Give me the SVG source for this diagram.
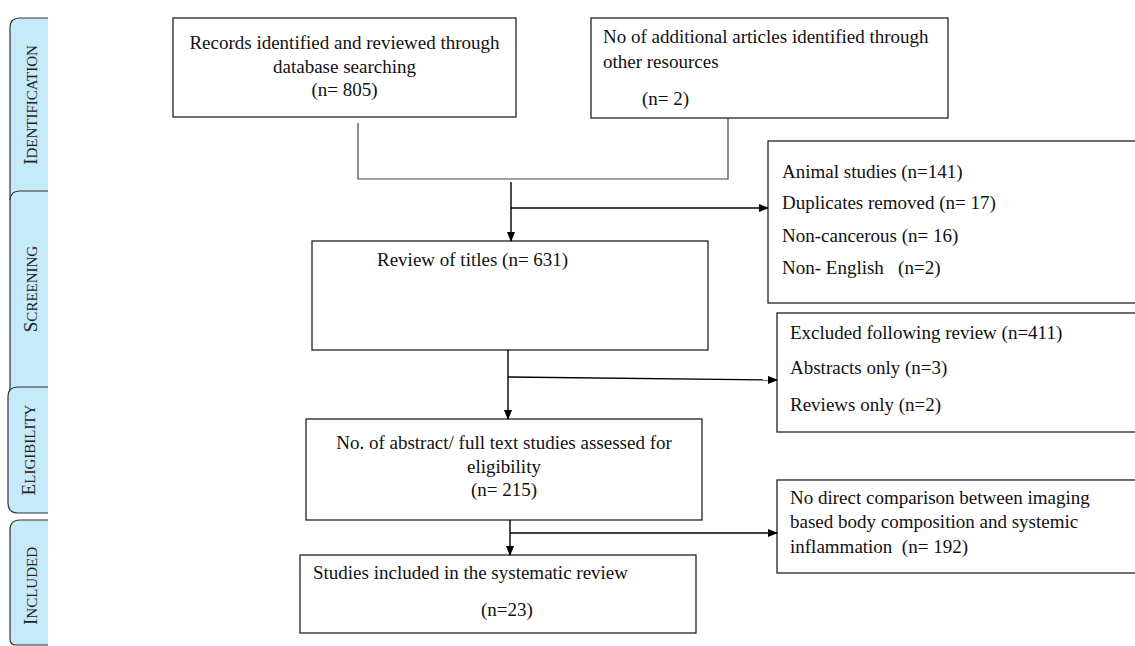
<svg xmlns="http://www.w3.org/2000/svg" width="1135" height="646" viewBox="0 0 1135 646">
<defs>
<marker id="ah" markerWidth="10" markerHeight="8" refX="9" refY="4" orient="auto" markerUnits="userSpaceOnUse">
<path d="M0,0 L10,4 L0,8 z" fill="#000"/>
</marker>
<style>
.box{fill:#fff;stroke:#222;stroke-width:1.3}
.t{font-family:"Liberation Serif","Times New Roman",serif;font-size:19px;fill:#111}
.c{text-anchor:middle}
.tab{fill:#C5EAFA}
.tabl{fill:none;stroke:#333;stroke-width:1.2}
.tt{font-family:"Liberation Serif","Times New Roman",serif;font-size:19px;fill:#222;text-anchor:middle}
.ln{fill:none;stroke:#444;stroke-width:1.2}
.ar{fill:none;stroke:#000;stroke-width:1.4;marker-end:url(#ah)}
</style>
</defs>
<rect width="1135" height="646" fill="#fff"/>

<g id="tab-identification">
<path class="tab" d="M10,28 Q10,18 20,18 L48,18 L48,200 L10,200 z"/>
<path class="tabl" d="M10,200 L10,28 Q10,18 20,18 L48,18"/>
<text class="tt" transform="translate(37,105) rotate(-90)">I<tspan font-size="15">DENTIFICATION</tspan></text>
</g>
<g id="tab-screening">
<path class="tab" d="M10,201 Q10,191 20,191 L48,191 L48,395 L10,395 z"/>
<path class="tabl" d="M10,395 L10,201 Q10,191 20,191 L48,191"/>
<text class="tt" transform="translate(37,289) rotate(-90)">S<tspan font-size="15">CREENING</tspan></text>
</g>
<g id="tab-eligibility">
<path class="tab" d="M18,387 L48,387 L48,513 L18,513 Q8,513 8,503 L8,397 Q8,387 18,387 z"/>
<path class="tabl" d="M48,387 L18,387 Q8,387 8,397 L8,503 Q8,513 18,513 L48,513"/>
<text class="tt" transform="translate(35,450) rotate(-90)">E<tspan font-size="15">LIGIBILITY</tspan></text>
</g>
<g id="tab-included">
<path class="tab" d="M10,530 Q10,520 20,520 L48,520 L48,645 L16,645 Q10,645 10,639 z"/>
<path class="tabl" d="M48,645 L16,645 Q10,645 10,639 L10,530 Q10,520 20,520 L48,520"/>
<text class="tt" transform="translate(37,586) rotate(-90)">I<tspan font-size="15">NCLUDED</tspan></text>
</g>

<g id="records">
<rect class="box" x="173" y="18" width="343" height="99"/>
<text class="t c" x="344.5" y="49">Records identified and reviewed through</text>
<text class="t c" x="344.5" y="73">database searching</text>
<text class="t c" x="344.5" y="96">(n= 805)</text>
</g>
<g id="additional">
<rect class="box" x="591" y="18" width="357" height="100"/>
<text class="t" x="603" y="43">No of additional articles identified through</text>
<text class="t" x="603" y="68">other resources</text>
<text class="t" x="642" y="105">(n= 2)</text>
</g>
<g id="titles">
<rect class="box" x="312" y="241" width="396" height="109"/>
<text class="t" x="377" y="266">Review of titles (n= 631)</text>
</g>
<g id="excl1">
<rect class="box" x="768" y="141" width="380" height="162"/>
<text class="t" x="782" y="178">Animal studies (n=141)</text>
<text class="t" x="782" y="209">Duplicates removed (n= 17)</text>
<text class="t" x="782" y="242">Non-cancerous (n= 16)</text>
<text class="t" x="782" y="274" xml:space="preserve">Non- English   (n=2)</text>
</g>
<g id="excl2">
<rect class="box" x="777" y="313" width="370" height="119"/>
<text class="t" x="790" y="339">Excluded following review (n=411)</text>
<text class="t" x="790" y="374">Abstracts only (n=3)</text>
<text class="t" x="790" y="411">Reviews only (n=2)</text>
</g>
<g id="fulltext">
<rect class="box" x="306" y="419" width="396" height="101"/>
<text class="t c" x="504" y="449">No. of abstract/ full text studies assessed for</text>
<text class="t c" x="504" y="473">eligibility</text>
<text class="t c" x="504" y="496">(n= 215)</text>
</g>
<g id="excl3">
<rect class="box" x="777" y="480" width="370" height="93"/>
<text class="t" x="790" y="504">No direct comparison between imaging</text>
<text class="t" x="790" y="528">based body composition and systemic</text>
<text class="t" x="790" y="553" xml:space="preserve">inflammation  (n= 192)</text>
</g>
<g id="included">
<rect class="box" x="300" y="555" width="396" height="78"/>
<text class="t" x="313" y="579">Studies included in the systematic review</text>
<text class="t" x="481" y="616">(n=23)</text>
</g>

<g id="connectors">
<path class="ln" d="M358,123 L358,179 L728,179 L728,118"/>
<path class="ar" d="M511,182 L511,241"/>
<path class="ar" d="M511,208 L768,208"/>
<path class="ar" d="M508,350 L508,419"/>
<path class="ar" d="M508,377 L777,380"/>
<path class="ar" d="M510,520 L510,555"/>
<path class="ar" d="M510,533 L777,533"/>
</g>
</svg>
